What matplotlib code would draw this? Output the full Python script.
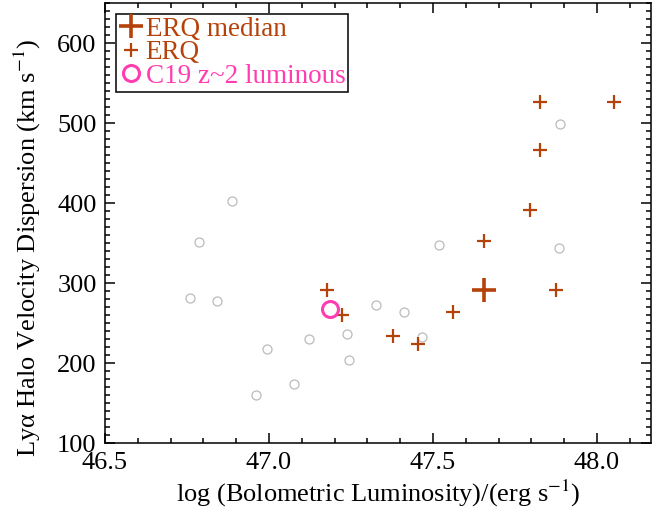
import matplotlib
matplotlib.use("Agg")
import matplotlib.pyplot as plt
from matplotlib.ticker import MultipleLocator

plt.rcParams["font.family"] = ["Liberation Serif", "DejaVu Serif"]
plt.rcParams["mathtext.fontset"] = "stix"

# C19 z~2 luminous sample (grey circles)
c19_lbol = [46.887, 46.786, 46.759, 46.841, 46.995, 47.123, 47.077, 46.961,
            47.239, 47.244, 47.325, 47.413, 47.466, 47.519, 47.887, 47.883]
c19_sigma = [403, 352, 281, 278, 218, 230, 174, 160,
             236, 204, 273, 264, 233, 348, 499, 344]

# ERQ sample
erq_lbol = [47.176, 47.222, 47.379, 47.455, 47.562, 47.655, 47.796, 47.826,
            47.827, 48.051, 47.874]
erq_sigma = [292, 260, 234, 224, 264, 353, 392, 467, 526, 526, 292]

# medians
erq_med_lbol = [47.655]
erq_med_sigma = [292]
c19_med_lbol = [47.186]
c19_med_sigma = [268]

erq_col = "#B5420A"
pink = "#FF3DB0"

fig = plt.figure(figsize=(6.52, 5.16), dpi=100)
ax = fig.add_axes([0.161, 0.141, 0.8375, 0.853])

ax.plot(c19_lbol, c19_sigma, "o", ls="none", ms=6.5, mfc="none",
        mec="#BBBBBB", mew=0.9)
h_med, = ax.plot(erq_med_lbol, erq_med_sigma, "+", ls="none", ms=17,
                 mew=2.6, color=erq_col, label="ERQ median")
h_erq, = ax.plot(erq_lbol, erq_sigma, "+", ls="none", ms=10.5, mew=1.6,
                 color=erq_col, label="ERQ")
h_c19, = ax.plot(c19_med_lbol, c19_med_sigma, "o", ls="none", ms=11.5,
                 mfc="none", mec=pink, mew=2.2, label="C19 z~2 luminous")

ax.set_xlim(46.5, 48.165)
ax.set_ylim(100, 650)
ax.xaxis.set_major_locator(MultipleLocator(0.5))
ax.xaxis.set_minor_locator(MultipleLocator(0.1))
ax.yaxis.set_major_locator(MultipleLocator(100))
ax.yaxis.set_minor_locator(MultipleLocator(10))
ax.xaxis.set_major_formatter(plt.FormatStrFormatter("%.1f"))
ax.tick_params(which="both", direction="in", top=True, right=True,
               labelsize=19, width=1.1)
ax.tick_params(which="major", length=7.5, pad=6)
ax.tick_params(which="minor", length=3.8)
for s in ax.spines.values():
    s.set_linewidth(1.1)

ax.set_xlabel(r"log (Bolometric Luminosity)/(erg s$^{-1}$)", fontsize=19,
              labelpad=3)
ax.set_ylabel("Ly\u03b1 Halo Velocity Dispersion (km s$^{-1}$)", fontsize=19)
ax.yaxis.set_label_coords(-0.113, 0.443)

leg = ax.legend(handles=[h_med, h_erq, h_c19], loc="upper left",
                fontsize=19.5, frameon=True, fancybox=False, framealpha=1,
                edgecolor="black", handlelength=0.9, handletextpad=0.1,
                labelspacing=-0.05, borderpad=0.1, borderaxespad=0.4)
leg.get_frame().set_linewidth(1.1)
for t, c in zip(leg.get_texts(), [erq_col, erq_col, pink]):
    t.set_color(c)

fig.canvas.draw()
ax.get_yticklabels()[0].set_va("bottom")

fig.savefig("out.png", dpi=100)
